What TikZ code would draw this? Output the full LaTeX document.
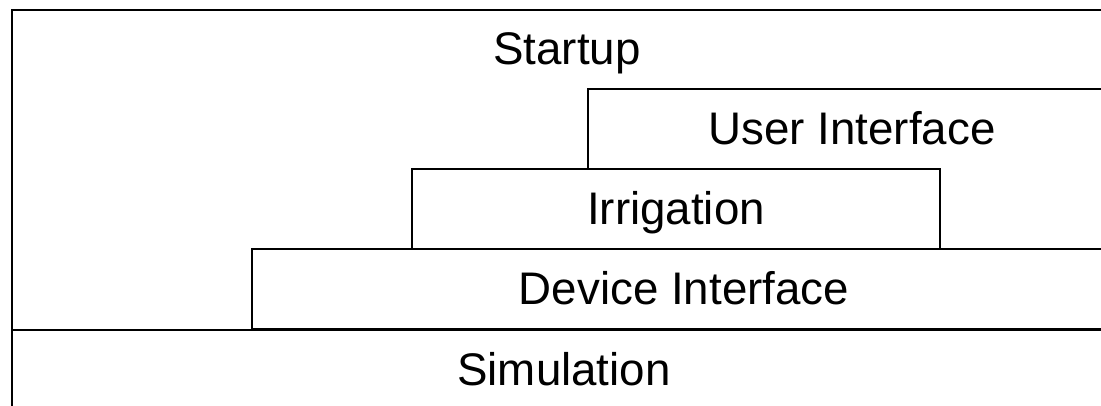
\documentclass[tikz,border=0pt]{standalone}
\usepackage{fontspec}
\setmainfont{Liberation Sans}

\tikzset{
  layer/.style={draw, line width=1.6pt, rectangle, anchor=north west,
    inner sep=0pt, outer sep=0pt, minimum height=1.6cm,
    text height=0.64cm, text depth=0pt, font=\fontsize{26}{31}\selectfont},
}

\begin{document}
\begin{tikzpicture}
\useasboundingbox (0,0) rectangle (22.02,8.12);
\clip (0,0) rectangle (22.02,8.12);

% Outer frame
\node[layer, minimum width=22.08cm, minimum height=8.4cm] (startup) at (0.24,7.92) {};
\node[anchor=base, font=\fontsize{26}{31}\selectfont] (startuplabel) at (11.34,6.82) {Startup};

% Stacked layers (top one is open below)
\node[layer, draw=none, minimum width=10.56cm] (ui) at (11.76,6.34) {User Interface};
\draw[line width=1.6pt] (ui.south west) |- (ui.north east);
\node[layer, minimum width=10.56cm] (irrigation) at (8.24,4.74) {Irrigation};
\node[layer, minimum width=17.28cm] (device) at (5.04,3.14) {Device Interface};
\node[layer, minimum width=22.08cm] (simulation) at (0.24,1.52) {Simulation};

\end{tikzpicture}
\end{document}
